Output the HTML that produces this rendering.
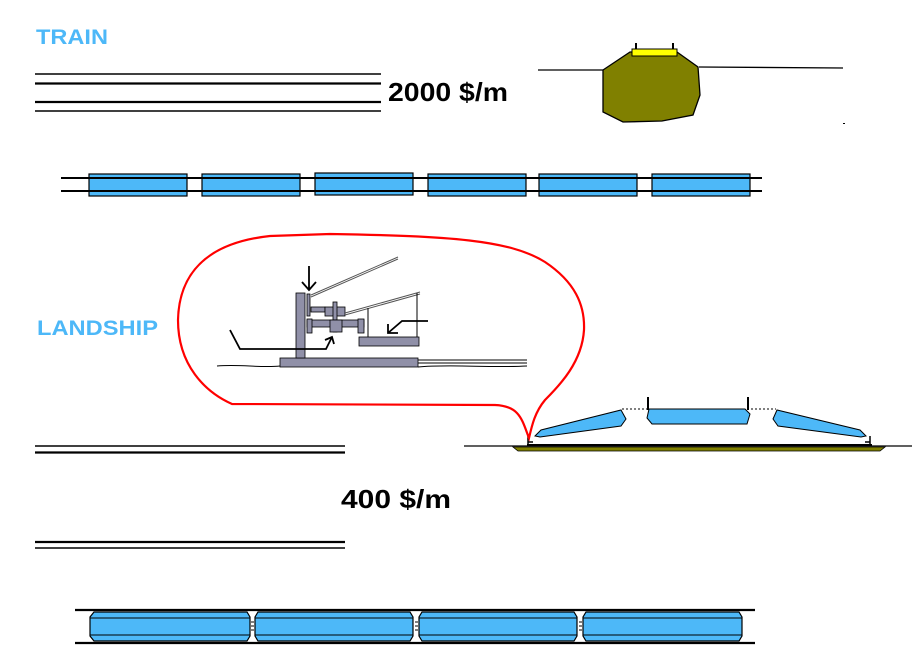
<!DOCTYPE html>
<html><head><meta charset="utf-8"><style>
html,body{margin:0;padding:0;background:#fff;}
svg{display:block;}
text{font-family:"Liberation Sans",Arial,sans-serif;font-weight:bold;}
</style></head><body>
<svg width="913" height="666" viewBox="0 0 913 666" xmlns="http://www.w3.org/2000/svg">
<rect width="913" height="666" fill="#fff"/>
<text x="36" y="44" font-size="21" fill="#4db8f8" textLength="72" lengthAdjust="spacingAndGlyphs">TRAIN</text>
<text x="37" y="335" font-size="21" fill="#4db8f8" textLength="121" lengthAdjust="spacingAndGlyphs">LANDSHIP</text>
<text x="388" y="101" font-size="26" fill="#000" textLength="120" lengthAdjust="spacingAndGlyphs">2000 $/m</text>
<text x="341" y="508" font-size="26" fill="#000" textLength="110" lengthAdjust="spacingAndGlyphs">400 $/m</text>

<g stroke="#000">
<line x1="35" y1="74" x2="381" y2="74" stroke-width="1.5"/>
<line x1="35" y1="83.5" x2="381" y2="83.5" stroke-width="2.2"/>
<line x1="35" y1="102" x2="381" y2="102" stroke-width="2.2"/>
<line x1="35" y1="111" x2="381" y2="111" stroke-width="1.5"/>
</g>

<g fill="#4db8f8" stroke="#000" stroke-width="1.2">
<rect x="89" y="174" width="98" height="22"/>
<rect x="202" y="174" width="98" height="22"/>
<rect x="315" y="173" width="98" height="22"/>
<rect x="428" y="174" width="98" height="22"/>
<rect x="539" y="174" width="98" height="22"/>
<rect x="652" y="174" width="98" height="22"/>
</g>
<g stroke="#000" stroke-width="2">
<line x1="61" y1="178" x2="762" y2="178"/>
<line x1="61" y1="191" x2="762" y2="191"/>
</g>

<line x1="538" y1="70" x2="603" y2="70" stroke="#000" stroke-width="1.3"/>
<line x1="699" y1="67" x2="843" y2="68" stroke="#000" stroke-width="1.3"/>
<polygon points="603,70 630,52 677,52 698,67 700,95 693,115 662,121 623,122 603,112" fill="#808000" stroke="#000" stroke-width="1.3"/>
<rect x="632" y="49" width="45" height="7" fill="#ffff00" stroke="#000" stroke-width="1"/>
<rect x="635" y="43" width="2" height="6" fill="#000"/>
<rect x="672" y="43" width="2" height="6" fill="#000"/>
<rect x="843" y="123" width="2" height="1" fill="#000"/>

<g stroke="#000">
<line x1="35" y1="446" x2="345" y2="446" stroke-width="1.5"/>
<line x1="35" y1="452.5" x2="345" y2="452.5" stroke-width="2.2"/>
<line x1="35" y1="542" x2="345" y2="542" stroke-width="2.2"/>
<line x1="35" y1="548" x2="345" y2="548" stroke-width="1.5"/>
</g>

<line x1="464" y1="446" x2="912" y2="446" stroke="#000" stroke-width="1.2"/>
<polygon points="513,447 885,447 880,451 518,451" fill="#808000" stroke="#000" stroke-width="0.8"/>
<line x1="527" y1="445" x2="872" y2="445" stroke="#000" stroke-width="2"/>
<path d="M622,409 H647 M751,409 H776" stroke="#000" stroke-dasharray="2,2" stroke-width="1"/>
<path d="M649,409 L745,409 L750,414 L747,424 L652,424 L647,418 Z" fill="#4db8f8" stroke="#000" stroke-width="1"/>
<line x1="648" y1="397" x2="648" y2="410" stroke="#000" stroke-width="2"/>
<line x1="748" y1="397" x2="748" y2="410" stroke="#000" stroke-width="2"/>
<polygon points="535,436 541,430 621,410 626,419 621,426 540,437" fill="#4db8f8" stroke="#000" stroke-width="1"/>
<polygon points="866,436 860,430 777,410 773,419 778,426 861,437" fill="#4db8f8" stroke="#000" stroke-width="1"/>
<path d="M528,436 V445 M528,442 H533 M870,436 V445 M870,442 H865" stroke="#000" stroke-width="1.5" fill="none"/>

<path d="M529,438 C522,420 520,406 495,405 L232,404 C205,392 178,365 178,320 C179,275 205,243 270,236 L330,234 C450,236 510,240 545,262 C575,282 585,305 584,330 C582,362 560,385 545,400 C535,412 532,425 529,438 Z" fill="none" stroke="#ff0000" stroke-width="2.2"/>

<g fill="#9090a8" stroke="#000" stroke-width="0.8">
<rect x="280" y="358" width="138" height="9"/>
<rect x="296" y="293" width="9" height="65"/>
<rect x="307" y="294" width="3" height="22"/>
<rect x="311" y="307" width="14" height="5"/>
<rect x="325" y="307" width="20" height="9"/>
<rect x="333" y="302" width="4" height="30"/>
<rect x="307" y="320" width="57" height="7"/>
<rect x="307" y="319" width="5" height="14"/>
<rect x="358" y="319" width="6" height="14"/>
<rect x="330" y="320" width="12" height="12"/>
<rect x="359" y="337" width="60" height="9"/>
</g>
<path d="M418,360 H527 M418,363 H527" stroke="#000" stroke-width="1"/>
<path d="M217,366 C240,364 260,368 280,366 M418,367 C450,364 490,368 527,366" stroke="#000" stroke-width="1" fill="none"/>
<path d="M311,295 L398,257 M311,297 L398,259 M345,313 L420,292 M345,315 L420,294" stroke="#555" stroke-width="1"/>
<path d="M368,308 V337 M417,293 V337" stroke="#000" stroke-width="1"/>
<path d="M309,266 V290 M302,282 L309,290 L316,282" stroke="#000" stroke-width="1.8" fill="none"/>
<path d="M428,321 H402 L388,333 M388,324 V333 H398" stroke="#000" stroke-width="1.8" fill="none"/>
<path d="M230,330 L240,349 H326 L332,337 M325,340 L332,337 L334,344" stroke="#000" stroke-width="1.8" fill="none"/>

<g stroke="#000" stroke-width="2.2">
<line x1="75" y1="610" x2="755" y2="610"/>
<line x1="75" y1="643" x2="755" y2="643"/>
</g>
<g fill="#4db8f8" stroke="#000" stroke-width="1.2">
<path d="M94,612 H247 L250,617 V636 L247,641 H94 L90,636 V617 Z"/>
<path d="M258,612 H410 L413,617 V636 L410,641 H258 L255,636 V617 Z"/>
<path d="M422,612 H574 L577,617 V636 L574,641 H422 L419,636 V617 Z"/>
<path d="M586,612 H739 L742,617 V636 L739,641 H586 L583,636 V617 Z"/>
</g>
<g stroke="#000" stroke-width="1">
<path d="M90,618 H250 M90,635 H250 M255,618 H413 M255,635 H413 M419,618 H577 M419,635 H577 M583,618 H742 M583,635 H742"/>
<path d="M251,622 H254 M251,626 H254 M251,630 H254 M415,622 H418 M415,626 H418 M415,630 H418 M579,622 H582 M579,626 H582 M579,630 H582"/>
</g>
</svg>
</body></html>
